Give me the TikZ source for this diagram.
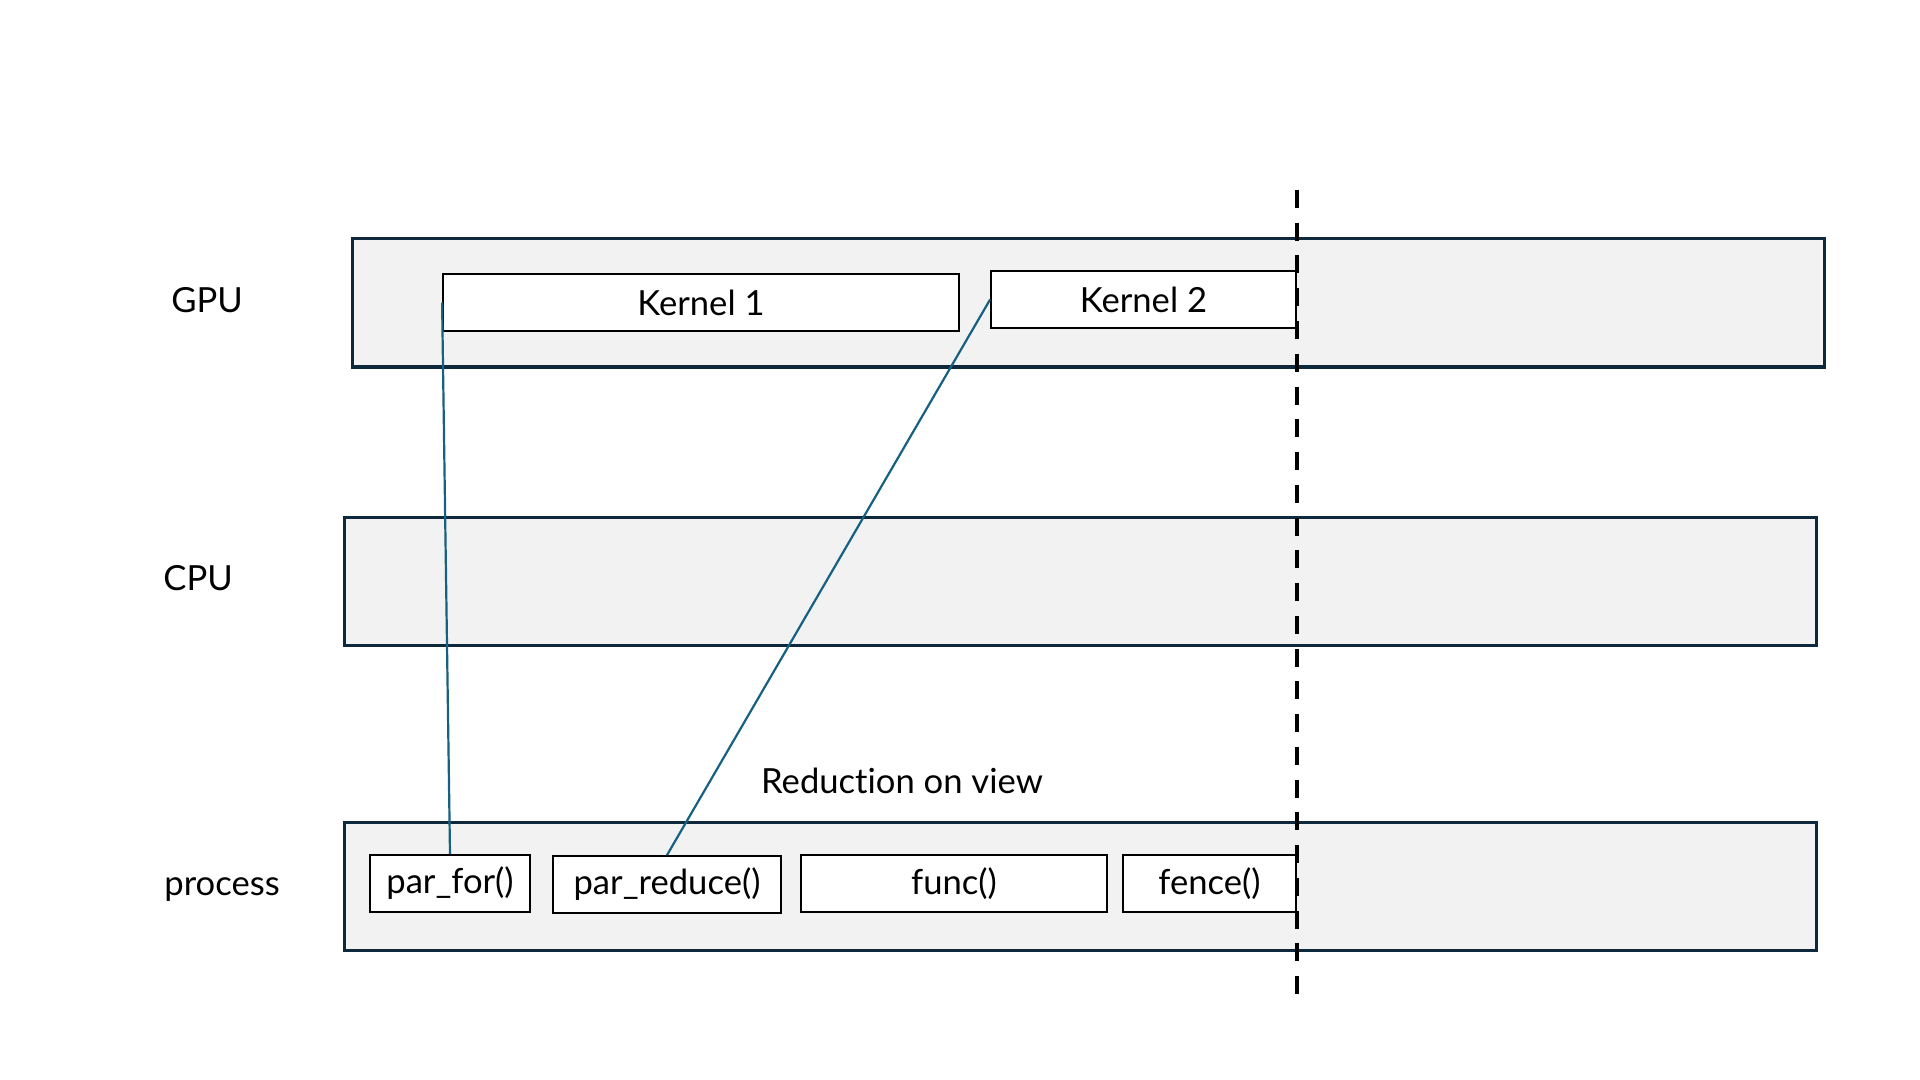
\documentclass[tikz,border=0pt]{standalone}
\usepackage{fontspec}
\setmainfont[Ligatures=NoCommon]{Lato}
\definecolor{bandfill}{RGB}{242,242,242}
\definecolor{bandline}{RGB}{14,40,60}
\definecolor{conn}{RGB}{22,96,130}
\begin{document}
\begin{tikzpicture}[x=0.5pt,y=-0.5pt,
  band/.style={draw=bandline,fill=bandfill,line width=1.5pt,minimum width=736pt,minimum height=64pt,inner sep=0pt},
  box/.style={draw=black,fill=white,line width=0.9pt,minimum height=28.5pt,inner sep=0pt,font=\fontsize{17.3}{20}\selectfont},
  lbl/.style={anchor=west,inner sep=0pt,font=\fontsize{17.3}{20}\selectfont},
  conline/.style={draw=conn,line width=1.1pt},
  sync/.style={draw=black,line width=2pt,dash pattern=on 9pt off 7.375pt}]
\useasboundingbox (0,0) rectangle (1920,1080);
\node[band] (gpu) at (1088.5,303) {};
\node[band] (cpu) at (1080,581) {};
\node[band] (proc) at (1080,886) {};
\node[lbl] (gpul) at (171,300) {GPU};
\node[lbl] (cpul) at (163,578) {CPU};
\node[lbl] (procl) at (164,890) {process};
\node[box,minimum width=258pt] (k1) at (701,302.5) {Kernel 1};
\node[box,minimum width=152.5pt] (k2) at (1143.5,299.5) {Kernel 2};
\node[box,minimum width=80pt] (pf) at (450,883.5) {par\_for()};
\node[box,minimum width=114pt] (pr) at (667,884.5) {par\_reduce()};
\node[box,minimum width=153pt] (fn) at (954,883.5) {func()};
\node[box,minimum width=86.5pt] (fc) at (1209.5,883.5) {fence()};
\node[inner sep=0pt,font=\fontsize{17.3}{20}\selectfont] (red) at (902,781) {Reduction on view};
\draw[conline] (k1.west) -- (pf.north);
\draw[conline] (k2.west) -- (pr.north);
\coordinate (st) at (1297,190);
\coordinate (sb) at (1297,994);
\draw[sync] (st) -- (sb);
\end{tikzpicture}
\end{document}
